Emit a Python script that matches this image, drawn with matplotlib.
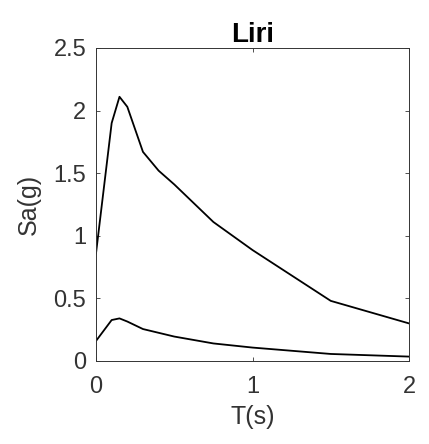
import numpy as np
import matplotlib
matplotlib.use('Agg')
import matplotlib.pyplot as plt

plt.rcParams['font.family'] = ['Liberation Sans', 'DejaVu Sans']

# periods (s) and spectral accelerations (g)
period = [0.0, 0.1, 0.15, 0.2, 0.3, 0.4, 0.5, 0.75, 1.0, 1.5, 2.0]
sa_upper = [0.86, 1.90, 2.11, 2.03, 1.67, 1.52, 1.41, 1.11, 0.886, 0.48, 0.30]
sa_lower = [0.16, 0.327, 0.34, 0.315, 0.255, 0.225, 0.195, 0.14, 0.107, 0.056, 0.035]

x_ticks = [0, 1, 2]
y_ticks = [0, 0.5, 1, 1.5, 2, 2.5]
y_tick_labels = ['0', '0.5', '1', '1.5', '2', '2.5']

text_col = '#333333'

fig = plt.figure(figsize=(4.29, 4.44), dpi=100)
ax = fig.add_axes([0.2238, 0.187, 0.7296, 0.705])

ax.plot(period, sa_upper, color='black', lw=1.3)
ax.plot(period, sa_lower, color='black', lw=1.3)

ax.set_xlim(0, 2)
ax.set_ylim(0, 2.5)
ax.set_xticks(x_ticks)
ax.set_xticklabels([str(t) for t in x_ticks])
ax.set_yticks(y_ticks)
ax.set_yticklabels(y_tick_labels)
ax.tick_params(direction='in', length=3, width=0.6, top=True, right=True,
               labelsize=17, colors=text_col)
ax.tick_params(axis='x', pad=11)
ax.tick_params(axis='y', pad=7)
for s in ax.spines.values():
    s.set_linewidth(0.7)
    s.set_color(text_col)

ax.set_title('Liri', fontsize=20, fontweight='bold', color='black', pad=4)
ax.set_xlabel('T(s)', fontsize=18, color=text_col, labelpad=5)
ax.set_ylabel('Sa(g)', fontsize=18, color=text_col, labelpad=9)

fig.savefig('out.png', dpi=100)
